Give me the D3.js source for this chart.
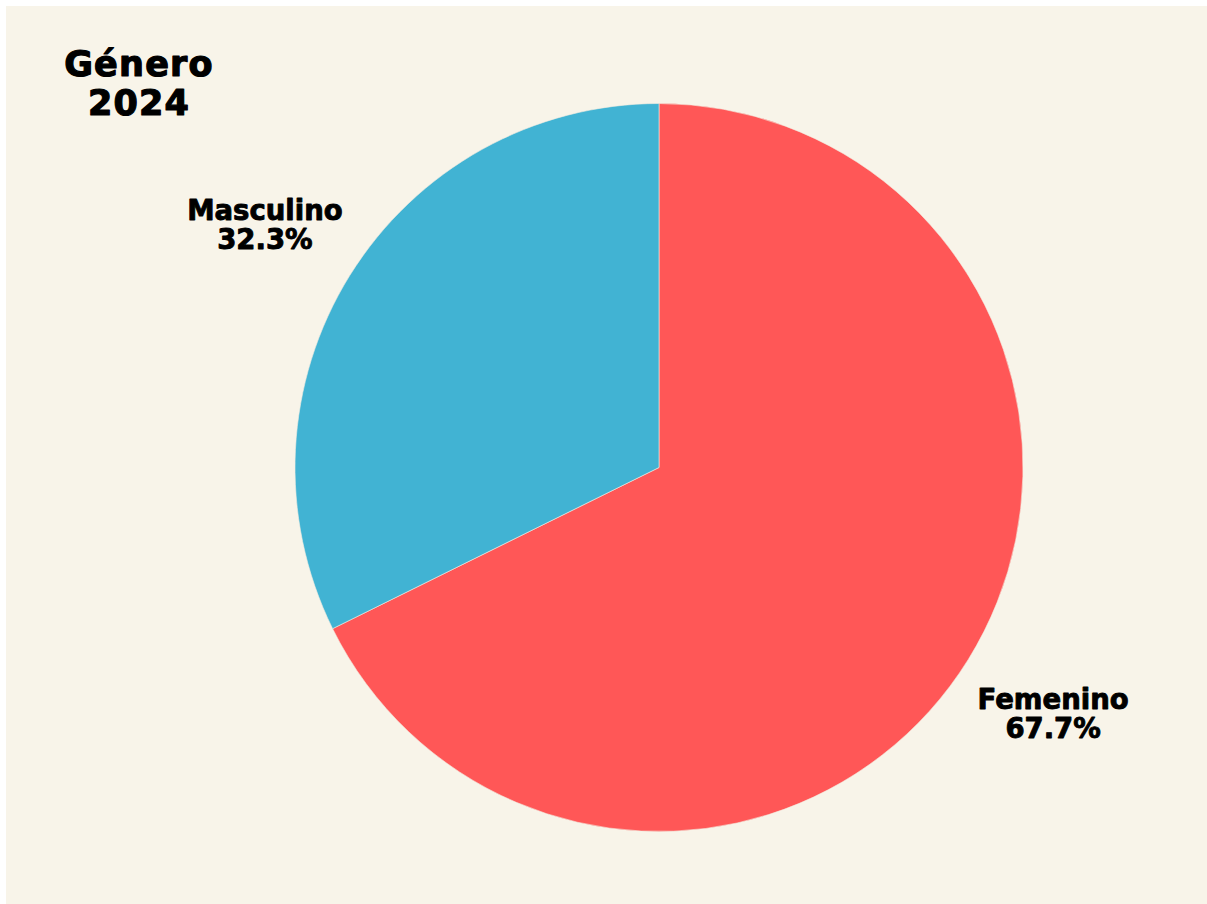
<!DOCTYPE html>
<html>
<head>
<meta charset="utf-8">
<script src="https://cdn.jsdelivr.net/npm/d3@7"></script>
<style>
  html, body { margin: 0; padding: 0; background: #ffffff; }
  svg { display: block; }
</style>
</head>
<body>
<svg id="chart" width="1207" height="904"></svg>
<script>
// Gender split for 2024
const categories = ["Femenino", "Masculino"];
const values = [67.7, 32.3];
const colors = ["#ff5757", "#41b3d3"];
const titleLines = ["Género", "2024"];

const W = 1207, H = 904;
const svg = d3.select("#chart");

// page background panel
svg.append("rect")
  .attr("x", 6).attr("y", 6)
  .attr("width", W - 6).attr("height", H - 6)
  .attr("fill", "#f8f4e9");

const cx = 659, cy = 467.5, radius = 364;
const labelRadius = 464;
const fontFamily = "'DejaVu Sans', 'Noto Sans', sans-serif";

const data = categories.map((c, i) => ({ name: c, value: values[i], color: colors[i] }));

const pie = d3.pie().sort(null).value(d => d.value);
const arcs = pie(data);
const arc = d3.arc().innerRadius(0).outerRadius(radius);
const labelArc = d3.arc().innerRadius(labelRadius).outerRadius(labelRadius);

const g = svg.append("g").attr("transform", `translate(${cx},${cy})`);

g.selectAll("path.slice")
  .data(arcs)
  .join("path")
  .attr("class", "slice")
  .attr("d", arc)
  .attr("fill", d => d.data.color)
  .attr("stroke", "#f3ede0")
  .attr("stroke-width", 0.6);

// heavy label style: bold face thickened with a thin outline
function heavy(sel, size) {
  sel.attr("text-anchor", "middle")
    .attr("font-family", fontFamily)
    .attr("font-weight", "bold")
    .attr("font-size", size)
    .attr("fill", "#000")
    .attr("stroke", "#000")
    .attr("stroke-width", 0.9)
    .attr("stroke-linejoin", "round");
}

const labelGroups = g.selectAll("g.label")
  .data(arcs)
  .join("g")
  .attr("class", "label")
  .attr("transform", d => {
    const [x, y] = labelArc.centroid(d);
    return `translate(${x},${y})`;
  });

labelGroups.append("text")
  .call(heavy, 27.5)
  .attr("y", -3)
  .text(d => d.data.name);
labelGroups.append("text")
  .call(heavy, 27.5)
  .attr("y", 26)
  .text(d => d.data.value.toFixed(1) + "%");

// title
titleLines.forEach((t, i) => {
  svg.append("text")
    .call(heavy, 35)
    .attr("stroke-width", 1.2)
    .attr("letter-spacing", 1.2)
    .attr("x", 139)
    .attr("y", 76 + i * 39)
    .text(t);
});
</script>
</body>
</html>
